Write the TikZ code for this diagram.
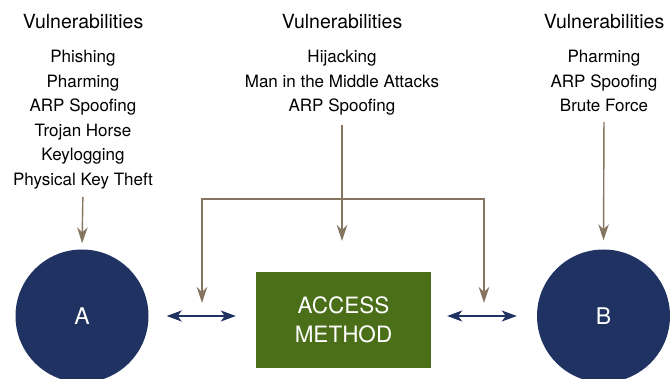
\documentclass[tikz,border=0pt]{standalone}
\usepackage{fontspec}
\setmainfont{TeX Gyre Heros}
\usepackage{xcolor}
\usetikzlibrary{arrows.meta,positioning,calc}

\definecolor{navy}{HTML}{1F3262}
\definecolor{moss}{HTML}{4B6E18}
\definecolor{taupe}{HTML}{857560}

\begin{document}
\begin{tikzpicture}[
			x=1pt, y=-1pt,
			every node/.style={inner sep=0pt},
			title/.style={anchor=base,font=\fontsize{19.5}{24}\selectfont},
			vulnlist/.style={anchor=north,align=center,font=\fontsize{17}{24.5}\selectfont},
			party/.style={circle,fill=navy,minimum size=133pt,text=white,font=\fontsize{23}{26}\selectfont},
			method/.style={fill=moss,minimum width=175pt,minimum height=96pt,align=center,text=white,font=\fontsize{22.5}{29}\selectfont},
			threat/.style={draw=taupe,line width=1.4pt,-{Stealth[length=16pt,width=10.5pt,inset=5pt]}},
			link/.style={draw=navy,line width=1.3pt,{Stealth[length=15pt,width=11pt,inset=4pt]}-{Stealth[length=15pt,width=11pt,inset=4pt]}}
		]

		\useasboundingbox (0,0) rectangle (672,379);

		% vulnerability lists
		\node[title] (v1) at (83,29) {Vulnerabilities};
		\node[vulnlist] (l1) at (83,50) {Phishing\\Pharming\\ARP Spoofing\\Trojan Horse\\Keylogging\\Physical Key Theft};

		\node[title] (v2) at (342,29) {Vulnerabilities};
		\node[vulnlist] (l2) at (342,50) {Hijacking\\Man in the Middle Attacks\\ARP Spoofing};

		\node[title] (v3) at (604,29) {Vulnerabilities};
		\node[vulnlist] (l3) at (604,50) {Pharming\\ARP Spoofing\\Brute Force};

		% the two ends and the access method
		\node[party] (a) at (82,316) {A};
		\node[party] (b) at (603.5,316) {B};
		\node[method] (am) at (343.5,320) {ACCESS\\METHOD};

		\draw[link, shorten <=18pt, shorten >=20pt] (a) -- (a -| am.west);
		\draw[link, shorten <=16pt, shorten >=20pt] (a -| am.east) -- (b);

		% threats
		\draw[threat, shorten <=8pt, shorten >=6pt] (l1.south) -- (a.north);
		\draw[threat, shorten <=10pt, shorten >=9pt] (l3.south) -- (b.north);

		\coordinate (mtip) at (342,241);
		\draw[threat, shorten <=10pt] (l2.south) -- (mtip);

		\coordinate (kl) at (202,303);
		\coordinate (kr) at (484,303);
		\coordinate (kt) at (342,199);
		\draw[threat, {Stealth[length=16pt,width=10.5pt,inset=5pt]}-{Stealth[length=16pt,width=10.5pt,inset=5pt]}] (kl) |- (kt) -| (kr);

	\end{tikzpicture}
\end{document}
